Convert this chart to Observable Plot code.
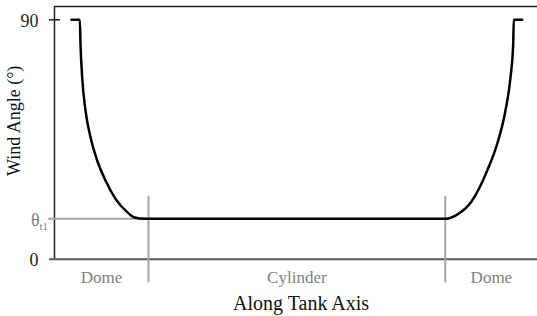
<!DOCTYPE html>
<html><head><meta charset="utf-8">
<script src="https://cdn.jsdelivr.net/npm/d3@7"></script>
<script src="https://cdn.jsdelivr.net/npm/@observablehq/plot@0.6"></script>
<style>body{margin:0;background:#fff} svg text, svg tspan {font-family: "Times New Roman", "Liberation Serif", "DejaVu Serif", serif !important;}</style>
</head><body><div id="chart"></div>
<script>
// Position along tank axis (arbitrary units, 0–100) and wind angle (degrees)
const axisPos = [3.52, 5.24, 5.38, 5.73, 6.42, 7.45, 8.84, 10.56, 12.63, 15.05, 16.42, 18.84, 19.46,
                 80.9, 83.2, 86.3, 89.59, 91.66, 93.37, 94.41, 94.97, 95.09, 96.83];
const windAngle = [90, 90, 81.0, 68.4, 55.9, 45.9, 37.1, 29.6, 22.7, 17.7, 15.8, 15.2, 15.2,
                   15.2, 16.6, 21.6, 33.3, 43.4, 55.9, 68.4, 81.0, 90, 90];
const regionNames = ["Dome", "Cylinder", "Dome"];
const regionBounds = [0, 19.46, 80.9, 100];
const thetaT1 = 15.2;
const yTicks = [0, 90];

const serif = "'Times New Roman', 'Liberation Serif', 'DejaVu Serif', serif";
const curve = axisPos.map((x, i) => ({x, y: windAngle[i]}));
const regions = regionNames.map((name, i) => ({name, x: (regionBounds[i] + regionBounds[i + 1]) / 2}));

const plot = Plot.plot({
  width: 537, height: 316,
  marginLeft: 54, marginRight: 0, marginTop: 6, marginBottom: 57.3,
  style: "background: #fff;",
  x: {domain: [0, 100], axis: null},
  y: {domain: [0, 95], axis: null},
  marks: [
    Plot.ruleY([95], {stroke: "#222", strokeWidth: 1.5}),
    Plot.ruleX([0], {y1: 0, y2: 95, stroke: "#222", strokeWidth: 1.5}),
    Plot.ruleY([0], {x1: -1.04, x2: 100, stroke: "#595959", strokeWidth: 2}),
    Plot.ruleY([90], {x1: -1.04, x2: 1.24, stroke: "#222", strokeWidth: 1.5}),
    Plot.text(yTicks, {x: 0, y: d => d, text: d => String(d), textAnchor: "end", dx: -16, dy: 1, fontSize: 18, fontFamily: serif, fill: "#222"}),
    Plot.ruleY([thetaT1], {x1: -1.24, x2: regionBounds[1], stroke: "#a6a6a6", strokeWidth: 2}),
    Plot.ruleX(regionBounds.slice(1, 3), {y1: -8.9, y2: 23.6, stroke: "#a6a6a6", strokeWidth: 2}),
    Plot.line(curve, {x: "x", y: "y", curve: "monotone-x", stroke: "#000", strokeWidth: 2.5}),
    Plot.text(regions, {x: "x", y: -8.8, text: "name", lineAnchor: "bottom", fontSize: 17, fontFamily: serif, fill: "#7f7f7f"}),
    Plot.text(["θ"], {x: 0, y: thetaT1, text: d => d, textAnchor: "end", dx: -15, dy: 1, fontSize: 18, fontFamily: serif, fill: "#7f7f7f"}),
    Plot.text(["t1"], {x: 0, y: thetaT1, text: d => d, textAnchor: "start", dx: -15, dy: 8, fontSize: 11, fontFamily: serif, fill: "#7f7f7f"}),
    Plot.text(["Along Tank Axis"], {x: 51.05, y: -19.2, text: d => d, lineAnchor: "bottom", fontSize: 20, fontFamily: serif, fill: "#111"}),
    Plot.text(["Wind Angle (°)"], {x: -8.28, y: 52, text: d => d, rotate: -90, fontSize: 18, fontFamily: serif, fill: "#111"})
  ]
});
document.getElementById("chart").append(plot);
</script>
</body></html>
